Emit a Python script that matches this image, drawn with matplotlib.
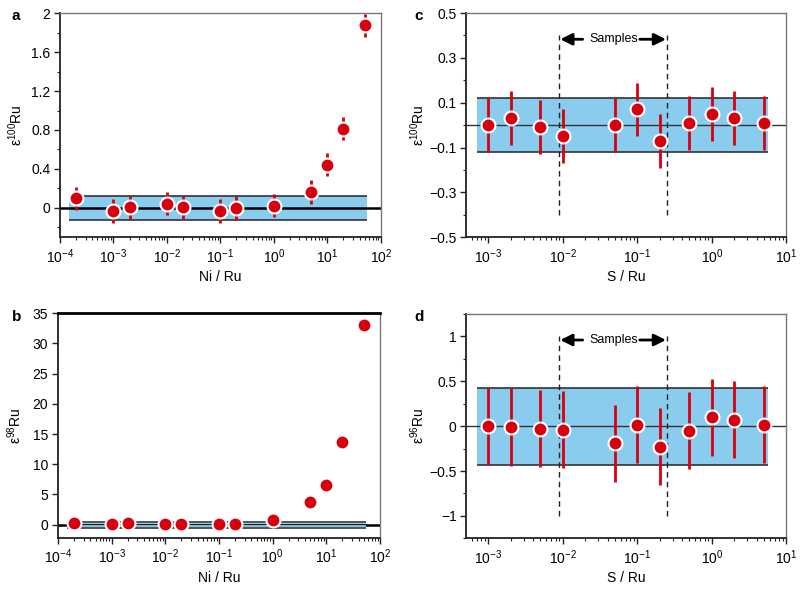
import numpy as np
import matplotlib
matplotlib.use('Agg')
import matplotlib.pyplot as plt
from matplotlib.ticker import MultipleLocator, FuncFormatter, FixedLocator, NullFormatter, LogFormatterSciNotation

plt.rcParams['font.family'] = ['Liberation Sans', 'DejaVu Sans']
plt.rcParams['mathtext.default'] = 'regular'
plt.rcParams['font.size'] = 10

# ---- data ----
ni_ratio = [2e-4, 1e-3, 2e-3, 1e-2, 2e-2, 1e-1, 2e-1, 1, 5, 10, 20, 50]
eps100_ni = [0.10, -0.03, 0.005, 0.045, 0.005, -0.03, 0.0, 0.025, 0.165, 0.445, 0.815, 1.875]
eps100_ni_err = [0.12] * 12
eps98_ni = [0.25, 0.2, 0.25, 0.1, 0.2, 0.2, 0.1, 0.8, 3.7, 6.6, 13.6, 33.0]

s_ratio = [1e-3, 2e-3, 5e-3, 1e-2, 5e-2, 1e-1, 2e-1, 0.5, 1, 2, 5]
eps100_s = [0.0, 0.03, -0.01, -0.05, 0.0, 0.07, -0.07, 0.01, 0.05, 0.03, 0.01]
eps100_s_err = [0.12] * 11
eps96_s = [0.0, -0.01, -0.03, -0.04, -0.19, 0.015, -0.23, -0.05, 0.10, 0.07, 0.015]
eps96_s_err = [0.43] * 11

band100 = 0.12
band98 = 0.5
band96 = 0.43
samples_lo, samples_hi = 0.009, 0.25

RED = '#d7000f'
BLUE = '#8accee'
EDGE = '#333333'

fig = plt.figure(figsize=(8, 5.93), dpi=100)
ax_a = fig.add_axes([0.075, 0.600, 0.401, 0.378])
ax_b = fig.add_axes([0.0725, 0.0927, 0.4025, 0.3793])
ax_c = fig.add_axes([0.583, 0.600, 0.400, 0.378])
ax_d = fig.add_axes([0.583, 0.0922, 0.400, 0.3783])

fmt = FuncFormatter(lambda v, p: f'{v:g}'.replace('-', '\u2212'))


def style(ax, xlim, ylim):
    ax.set_xscale('log')
    ax.set_xlim(*xlim)
    ax.set_ylim(*ylim)
    for s in ['left', 'bottom']:
        ax.spines[s].set_color('#222222')
        ax.spines[s].set_linewidth(1.3)
    for s in ['top', 'right']:
        ax.spines[s].set_color('#777777')
        ax.spines[s].set_linewidth(1.0)
    ax.tick_params(which='major', direction='out', length=4, width=1, color='#222222',
                   labelsize=10, pad=3)
    ax.tick_params(which='minor', direction='out', length=2.5, width=0.8, color='#222222')
    lo, hi = xlim
    decades = np.arange(np.floor(np.log10(lo)), np.ceil(np.log10(hi)) + 1)
    major = [10.0 ** d for d in decades if lo <= 10.0 ** d <= hi]
    minor = [m * 10.0 ** d for d in decades for m in range(2, 10) if lo <= m * 10.0 ** d <= hi]
    ax.xaxis.set_major_locator(FixedLocator(major))
    ax.xaxis.set_major_formatter(LogFormatterSciNotation())
    ax.xaxis.set_minor_locator(FixedLocator(minor))
    ax.xaxis.set_minor_formatter(NullFormatter())
    ax.yaxis.set_major_formatter(fmt)


def band(ax, x0, x1, h, lw_edge=1.2):
    ax.fill_between([x0, x1], -h, h, color=BLUE, zorder=1, lw=0)
    ax.hlines([-h, h], x0, x1, colors=EDGE, lw=lw_edge, zorder=2)


def points(ax, x, y, yerr=None, ms=10):
    if yerr is not None:
        ax.errorbar(x, y, yerr=yerr, fmt='none', ecolor=RED, elinewidth=2, zorder=3)
    ax.plot(x, y, 'o', ms=ms, mfc=RED, mec='white', mew=1.5, zorder=4, clip_on=False)


def samples(ax, y0, y1, ytxt):
    ax.vlines([samples_lo, samples_hi], y0, y1, colors='#222222', linestyles=(0, (4, 3)), lw=1, zorder=2)
    ax.text(0.049, ytxt, 'Samples', ha='center', va='center', fontsize=9)
    arrow = dict(arrowstyle='-|>,head_length=0.7,head_width=0.35', color='black', lw=2,
                 shrinkA=0, shrinkB=0)
    ax.annotate('', xy=(samples_lo * 1.03, ytxt), xytext=(0.0185, ytxt), arrowprops=arrow)
    ax.annotate('', xy=(samples_hi * 0.97, ytxt), xytext=(0.108, ytxt), arrowprops=arrow)


# ---- a ----
ax = ax_a
style(ax, (1e-4, 1e2), (-0.3, 2.0))
band(ax, 1.5e-4, 55, band100)
ax.axhline(0, color='black', lw=1.8, zorder=2)
points(ax, ni_ratio, eps100_ni, eps100_ni_err)
ax.yaxis.set_major_locator(MultipleLocator(0.4))
ax.yaxis.set_minor_locator(MultipleLocator(0.2))
ax.set_ylabel('ε$^{100}$Ru', labelpad=4)
ax.set_xlabel('Ni / Ru', labelpad=3)

# ---- b ----
ax = ax_b
style(ax, (1e-4, 1e2), (-2.2, 35))
ax.fill_between([1.5e-4, 55], -band98, band98, color='#2a7fb8', zorder=1, lw=0)
ax.hlines([-band98 * 0.45, band98 * 0.45], 1.5e-4, 55, colors='#a8dcf5', lw=1.2, zorder=2)
ax.hlines([-band98, band98], 1.5e-4, 55, colors='#555555', lw=1.4, zorder=2)
ax.axhline(0, color='black', lw=1.8, zorder=1.5)
points(ax, ni_ratio, eps98_ni)
ax.spines['top'].set_color('black')
ax.spines['top'].set_linewidth(2)
ax.yaxis.set_major_locator(MultipleLocator(5))
ax.set_ylabel('ε$^{98}$Ru', labelpad=6)
ax.set_xlabel('Ni / Ru', labelpad=3)

# ---- c ----
ax = ax_c
style(ax, (5.1e-4, 10), (-0.5, 0.5))
band(ax, 7e-4, 5.6, band100)
ax.axhline(0, color='#333333', lw=1.0, zorder=2)
samples(ax, -0.4, 0.4, 0.383)
points(ax, s_ratio, eps100_s, eps100_s_err)
ax.set_yticks([-0.5, -0.3, -0.1, 0.1, 0.3, 0.5])
ax.set_yticks([-0.4, -0.2, 0, 0.2, 0.4], minor=True)
ax.set_ylabel('ε$^{100}$Ru', labelpad=2)
ax.set_xlabel('S / Ru', labelpad=3)

# ---- d ----
ax = ax_d
style(ax, (5.1e-4, 10), (-1.25, 1.25))
band(ax, 7e-4, 5.6, band96)
ax.axhline(0, color='#333333', lw=1.0, zorder=2)
samples(ax, -1.0, 1.0, 0.96)
points(ax, s_ratio, eps96_s, eps96_s_err)
ax.yaxis.set_major_locator(MultipleLocator(0.5))
ax.yaxis.set_minor_locator(MultipleLocator(0.25))
ax.set_ylabel('ε$^{96}$Ru', labelpad=2)
ax.set_xlabel('S / Ru', labelpad=3)

for lab, x, y in [('a', 0.015, 0.985), ('b', 0.015, 0.478), ('c', 0.518, 0.985), ('d', 0.518, 0.478)]:
    fig.text(x, y, lab, fontweight='bold', fontsize=11, va='top')

fig.savefig('out.png', dpi=100)
